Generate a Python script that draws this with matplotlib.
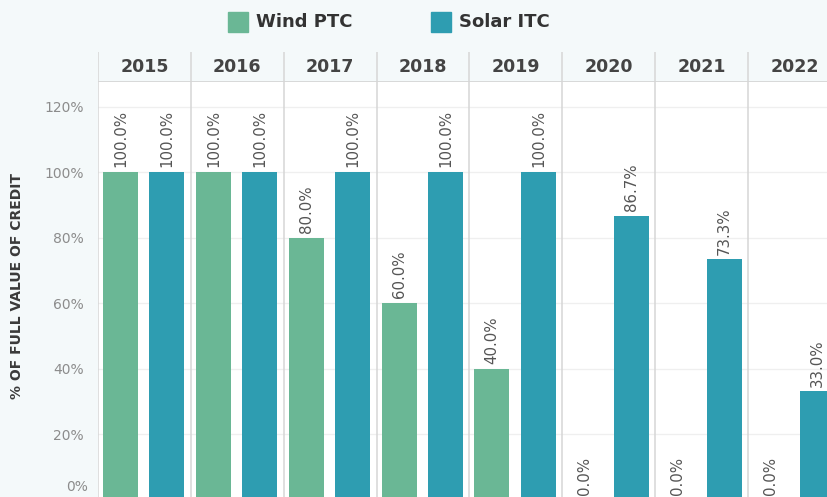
import matplotlib
matplotlib.use("Agg")
import matplotlib.pyplot as plt
from matplotlib.patches import Rectangle

years = ["2015", "2016", "2017", "2018", "2019", "2020", "2021", "2022"]
wind_ptc = [100.0, 100.0, 80.0, 60.0, 40.0, 0.0, 0.0, 0.0]
solar_itc = [100.0, 100.0, 100.0, 100.0, 100.0, 86.7, 73.3, 33.0]
y_ticks = [20, 40, 60, 80, 100, 120]


def main():
    W, H = 828, 497
    bg = "#f4f9fa"
    green = "#6ab795"
    teal = "#2e9db1"
    sep = "#d6d6d6"

    fig = plt.figure(figsize=(W / 100, H / 100), dpi=100, facecolor=bg)

    # panel geometry in pixels
    left_px, top_px, head_top_px = 98, 82, 52
    panel_w = 92.86
    x_max = (W - left_px) / panel_w

    ax = fig.add_axes([left_px / W, 0, 1 - left_px / W, 1 - top_px / H])
    ax.set_facecolor("white")
    ax.set_xlim(0, x_max)
    ax.set_ylim(0.76, 127.5)

    n = len(years)
    wind_x = [i + 0.242 for i in range(n)]
    solar_x = [i + 0.743 for i in range(n)]
    bw = 0.377

    for v in y_ticks:
        ax.axhline(v, color="#efefef", lw=0.9, zorder=0)

    ax.bar(wind_x, wind_ptc, width=bw, color=green, zorder=2)
    ax.bar(solar_x, solar_itc, width=bw, color=teal, zorder=2)

    for xs, vals in [(wind_x, wind_ptc), (solar_x, solar_itc)]:
        for x, v in zip(xs, vals):
            ax.annotate(f"{v:.1f}%", (x, v), xytext=(0, 3.5),
                        textcoords="offset points", rotation=90,
                        ha="center", va="bottom", fontsize=10.8,
                        color="#555555", zorder=3, annotation_clip=False)

    for i in range(n):
        ax.axvline(i, color=sep, lw=1.1, zorder=1)

    for s in ax.spines.values():
        s.set_visible(False)
    ax.set_xticks([])
    ax.set_yticks(y_ticks)
    ax.set_yticklabels([f"{v}%" for v in y_ticks], fontsize=10, color="#8c8c8c")
    ax.tick_params(axis="y", length=0, pad=10)
    fig.text(88 / W, 1 - 487 / H, "0%", ha="right", va="center",
             fontsize=10, color="#8c8c8c")

    fig.text(17 / W, 1 - 286 / H, "% OF FULL VALUE OF CREDIT", rotation=90,
             ha="center", va="center", fontsize=10, color="#3a3a3a",
             fontweight="bold")

    # year header row
    hax = fig.add_axes([left_px / W, 1 - top_px / H, 1 - left_px / W,
                        (top_px - head_top_px) / H])
    hax.set_xlim(0, x_max)
    hax.set_ylim(0, 1)
    hax.patch.set_alpha(0)
    hax.axis("off")
    for i in range(n):
        hax.axvline(i, color=sep, lw=1.1)
        hax.text(i + 0.5, 0.5, years[i], ha="center", va="center",
                 fontsize=12.5, fontweight="bold", color="#444444")
    hax.axhline(0, color=sep, lw=1.3)

    # legend
    for x0, col, label in [(228, green, "Wind PTC"), (431, teal, "Solar ITC")]:
        fig.patches.append(Rectangle((x0 / W, 1 - 32 / H), 20 / W, 20 / H,
                                     transform=fig.transFigure, color=col))
        fig.text((x0 + 28) / W, 1 - 22 / H, label, ha="left", va="center",
                 fontsize=13, fontweight="bold", color="#333333")

    fig.savefig("out.png", dpi=100, facecolor=bg)


if __name__ == "__main__":
    main()
